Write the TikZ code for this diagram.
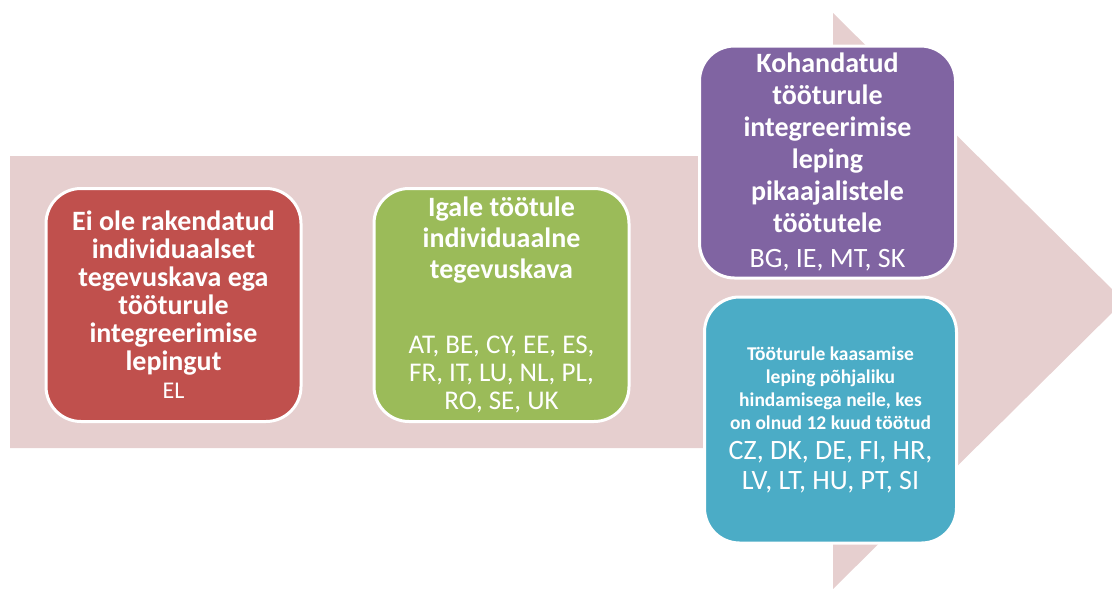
\documentclass[tikz,border=0pt]{standalone}
\usepackage{fontspec}
\setmainfont{Carlito}
\usetikzlibrary{positioning}
\definecolor{arrowpink}{RGB}{230,207,207}
\definecolor{boxred}{RGB}{192,80,77}
\definecolor{boxgreen}{RGB}{155,187,89}
\definecolor{boxpurple}{RGB}{128,100,162}
\definecolor{boxteal}{RGB}{75,172,198}
\newcommand{\riik}[2][28]{{\mdseries\fontsize{#1}{#1}\selectfont #2}}

\begin{document}
\begin{tikzpicture}
	[
	x=1pt, y=1pt,
	box/.style = {draw=white, line width=3pt, rounded corners=35pt, text=white, align=center, inner sep=0pt},
	head/.style = {font=\bfseries\fontsize{28}{#1}\selectfont},
	head/.default = 28
	]
	\useasboundingbox (0,0) rectangle (1112,-589);
	\clip (0,0) rectangle (1112,-589);
	% background arrow
	\fill[arrowpink] (10,-156) -- (833,-156) -- (833,-13) -- (1124,-301) -- (833,-589) -- (833,-448) -- (10,-448) -- cycle;
	% boxes
	\node[box, head, fill=boxred, minimum width=255pt, minimum height=233pt] (puudub) at (173.5,-305)
		{Ei ole rakendatud\\ individuaalset\\ tegevuskava ega\\ tööturule\\ integreerimise\\ lepingut\\ \riik[24]{EL}};
	\node[box, head=31, fill=boxgreen, minimum width=255pt, minimum height=233pt, right=70pt of puudub] (kava)
		{Igale töötule\\ individuaalne\\ tegevuskava\\[44pt] \riik[27]{AT, BE, CY, EE, ES,}\\[-3pt] \riik[27]{FR, IT, LU, NL, PL,}\\[-3pt] \riik[27]{RO, SE, UK}};
	\node[box, head=32, fill=boxpurple, minimum width=256pt, minimum height=232pt] (kohandatud) at (827.5,-162)
		{Kohandatud\\ tööturule\\ integreerimise\\ leping\\ pikaajalistele\\ töötutele\\[3pt] \riik{BG, IE, MT, SK}};
	\node[box, font=\bfseries\fontsize{19.5}{23}\selectfont, fill=boxteal, minimum width=252pt, minimum height=246pt, below=16pt of kohandatud, xshift=3pt] (kaasamine)
		{Tööturule kaasamise\\ leping põhjaliku\\ hindamisega neile, kes\\ on olnud 12 kuud töötud\\[7pt] \riik{CZ, DK, DE, FI, HR,}\\[7pt] \riik{LV, LT, HU, PT, SI}};
\end{tikzpicture}
\end{document}
